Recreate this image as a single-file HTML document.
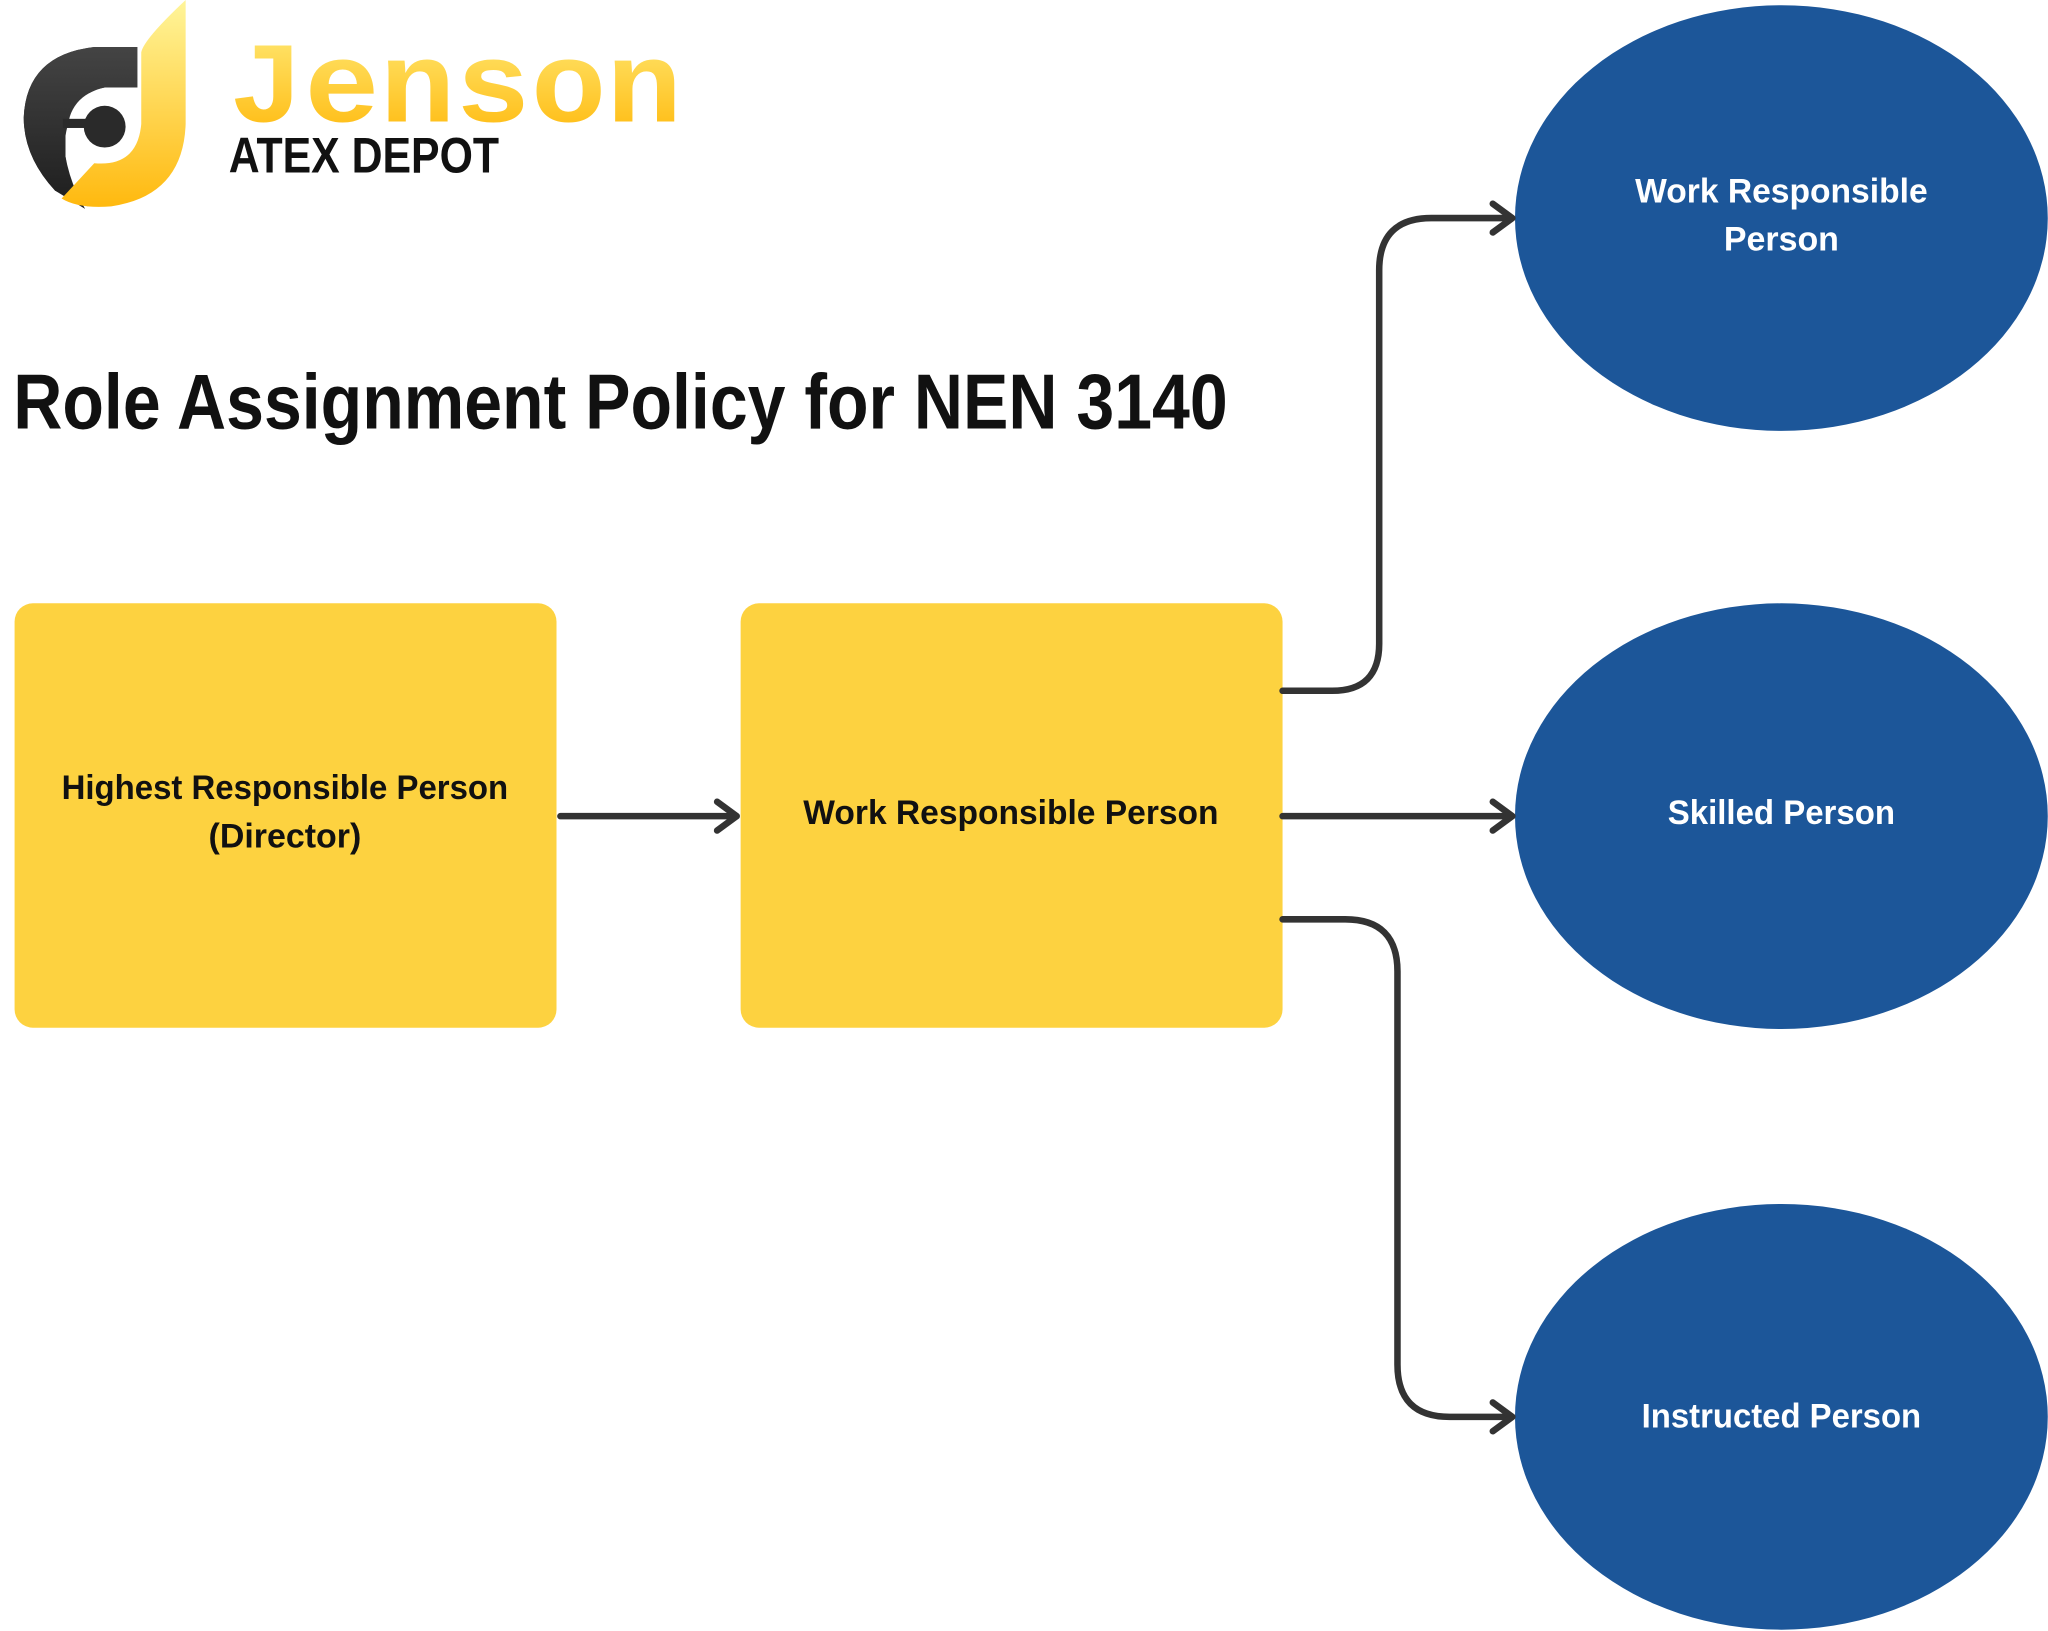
<!DOCTYPE html>
<html><head><meta charset="utf-8"><style>
html,body{margin:0;padding:0;background:#fff;}
svg{display:block;}
text{font-family:"Liberation Sans",sans-serif;font-weight:bold;}
</style></head><body>
<svg width="2048" height="1631" viewBox="0 0 1568 1249" xmlns="http://www.w3.org/2000/svg">
<defs>
<linearGradient id="gy" x1="0" y1="0" x2="0" y2="1"><stop offset="0" stop-color="#FFF59A"/><stop offset="1" stop-color="#FFB90F"/></linearGradient>
<linearGradient id="gt" x1="0" y1="0" x2="0" y2="1"><stop offset="0" stop-color="#FFE873"/><stop offset="1" stop-color="#FFB300"/></linearGradient>
<linearGradient id="gd" x1="0" y1="0" x2="0" y2="1"><stop offset="0" stop-color="#444"/><stop offset="1" stop-color="#1e1e1e"/></linearGradient>
</defs>
<!-- logo icon -->
<path d="M105 36 L105 67 L80 67 Q50 72 48 104 Q50 135 65 160 L42 146 Q18 120 18 90 Q20 42 72 36 Z" fill="url(#gd)"/>
<path d="M105 36 L105 67 L80 67 Q55 72 50 104 L50 120 Q53 145 67 158 L42 146 Q18 120 18 90 Q20 42 72 36 Z" fill="url(#gd)"/>
<circle cx="82" cy="98" r="30" fill="#fff"/>
<circle cx="80" cy="97" r="16" fill="#2a2a2a"/>
<rect x="48" y="91" width="18" height="7" fill="#2a2a2a"/>
<path d="M142 0 L142 95 Q140 150 85 158 Q60 160 47 152 L72 125 Q105 128 108 95 L108 40 Q110 30 142 0 Z" fill="url(#gy)"/>
<text x="175" y="93" font-size="88" fill="url(#gt)" textLength="347" lengthAdjust="spacingAndGlyphs" font-weight="normal" style="font-family:'Liberation Mono',monospace">Jenson</text>
<text x="175" y="132" font-size="38" fill="#111" textLength="207" lengthAdjust="spacingAndGlyphs">ATEX DEPOT</text>
<!-- title -->
<text x="10" y="328" font-size="60" fill="#111" textLength="930" lengthAdjust="spacingAndGlyphs">Role Assignment Policy for NEN 3140</text>
<!-- boxes -->
<rect x="11" y="462" width="415" height="325" rx="14" fill="#FDD240"/>
<rect x="567" y="462" width="415" height="325" rx="14" fill="#FDD240"/>
<text x="218" y="612" font-size="26" text-anchor="middle" fill="#111" textLength="342" lengthAdjust="spacingAndGlyphs">Highest Responsible Person</text>
<text x="218" y="649" font-size="26" text-anchor="middle" fill="#111">(Director)</text>
<text x="774" y="631" font-size="26" text-anchor="middle" fill="#111" textLength="318" lengthAdjust="spacingAndGlyphs">Work Responsible Person</text>
<!-- ellipses -->
<ellipse cx="1364" cy="167" rx="204" ry="163" fill="#1C5699"/>
<ellipse cx="1364" cy="625" rx="204" ry="163" fill="#1C5699"/>
<ellipse cx="1364" cy="1085" rx="204" ry="163" fill="#1C5699"/>
<text x="1364" y="155" font-size="26" text-anchor="middle" fill="#fff" textLength="224" lengthAdjust="spacingAndGlyphs">Work Responsible</text>
<text x="1364" y="192" font-size="26" text-anchor="middle" fill="#fff">Person</text>
<text x="1364" y="631" font-size="26" text-anchor="middle" fill="#fff" textLength="174" lengthAdjust="spacingAndGlyphs">Skilled Person</text>
<text x="1364" y="1093" font-size="26" text-anchor="middle" fill="#fff" textLength="214" lengthAdjust="spacingAndGlyphs">Instructed Person</text>
<!-- connectors -->
<g fill="none" stroke="#333" stroke-width="5" stroke-linecap="round" stroke-linejoin="round">
<path d="M429 625 H563"/><path d="M549 614 L564 625 L549 636"/>
<path d="M982 529 H1020 Q1056 529 1056 493 V207 Q1056 167 1096 167 H1157"/><path d="M1143 156 L1158 167 L1143 178"/>
<path d="M982 625 H1157"/><path d="M1143 614 L1158 625 L1143 636"/>
<path d="M982 704 H1030 Q1070 704 1070 744 V1045 Q1070 1085 1110 1085 H1157"/><path d="M1143 1074 L1158 1085 L1143 1096"/>
</g>
</svg>
</body></html>
